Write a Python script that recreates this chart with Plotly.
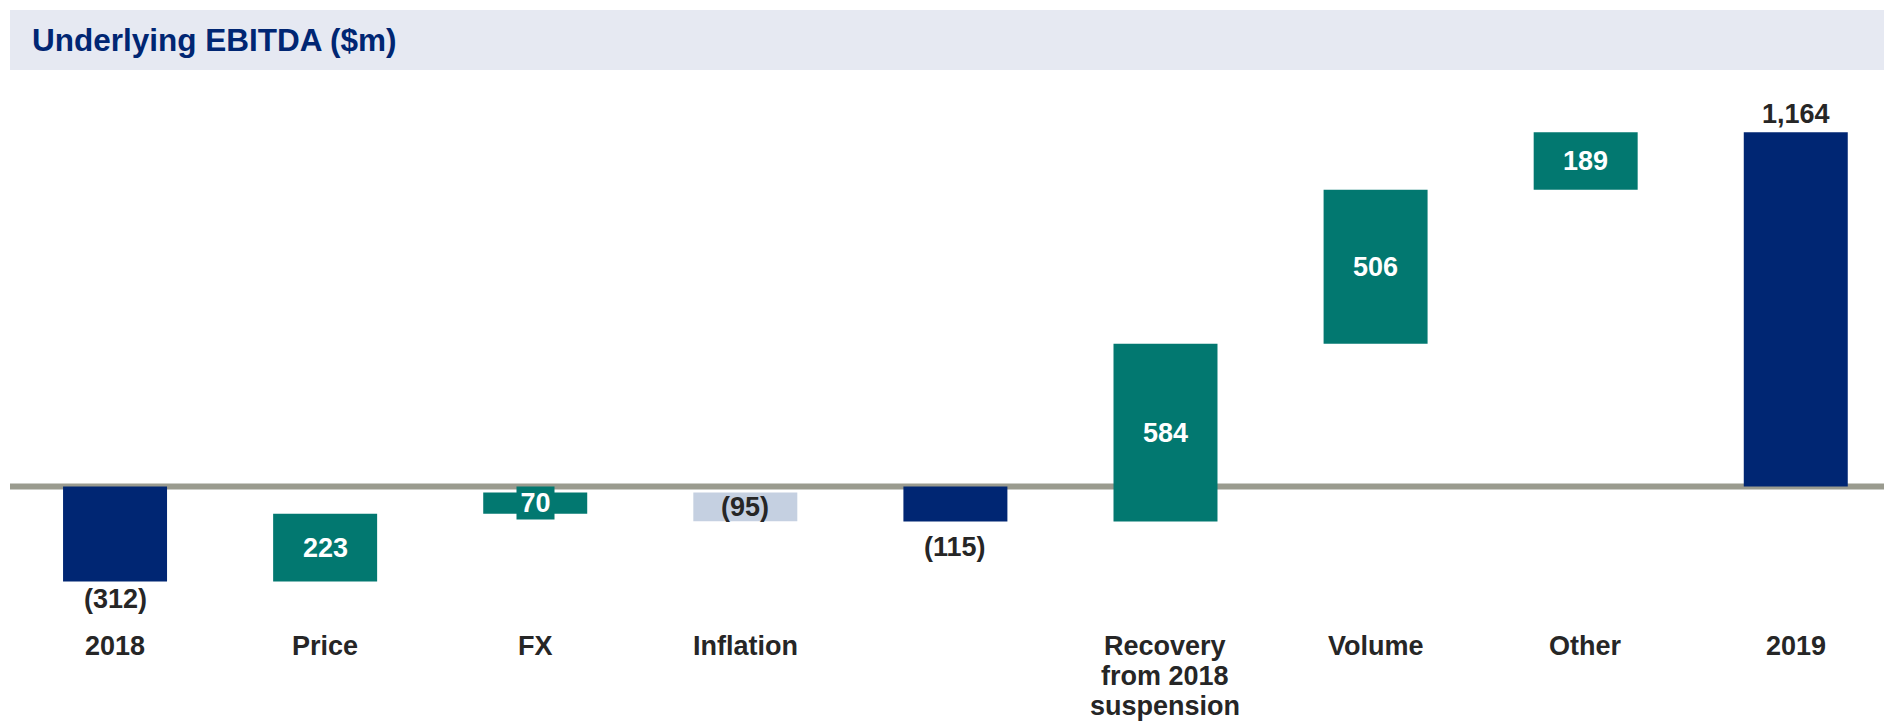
import plotly.graph_objects as go

# Underlying EBITDA bridge, 2018 -> 2019 ($m)
categories = ["2018", "Price", "FX", "Inflation", "",
              "Recovery<br>from 2018<br>suspension", "Volume", "Other", "2019"]
measures = ["absolute", "relative", "relative", "relative", "absolute",
            "relative", "relative", "relative", "absolute"]
values = [-312, 223, 70, -95, -115, 584, 506, 189, 1164]
value_labels = ["(312)", "223", "70", "(95)", "(115)", "584", "506", "189", "1,164"]

NAVY = "#002673"
TEAL = "#027870"
LIGHT = "#C5D0E1"
DARK = "#262626"
FONT = "Liberation Sans, Arial, sans-serif"

# running bar extents (base, end) built from the measures
bases, ends = [], []
total = 0
for m, v in zip(measures, values):
    if m == "absolute":
        bases.append(0)
        total = v
    else:
        bases.append(total)
        total += v
    ends.append(total)

x = list(range(len(categories)))

fig = go.Figure()
fig.add_trace(go.Waterfall(
    x=x,
    measure=measures,
    y=values,
    width=0.495,
    increasing=dict(marker=dict(color=TEAL)),
    decreasing=dict(marker=dict(color=LIGHT)),
    totals=dict(marker=dict(color=NAVY)),
    connector=dict(visible=False),
    hoverinfo="skip",
    showlegend=False,
))

# label placement per bar: inside (centred), below or above the bar end
placement = ["below", "inside", "inside_box", "inside_dark", "below",
             "inside", "inside", "inside", "above"]
shift_px = {0: -17, 4: -25, 8: 18}

annotations = []
for i, (lab, pos) in enumerate(zip(value_labels, placement)):
    base, end = bases[i], ends[i]
    if pos.startswith("inside"):
        color = DARK if pos == "inside_dark" else "white"
        ann = dict(x=i, y=(base + end) / 2, text=lab, showarrow=False,
                   xanchor="center", yanchor="middle",
                   font=dict(family=FONT, size=27, color=color, weight="bold"))
        if pos == "inside_box":
            # thin bar: the label sits on its own filled box
            ann.update(bgcolor=TEAL, borderpad=0, width=37, height=32)
        annotations.append(ann)
    else:
        annotations.append(dict(x=i, y=end, text=lab, showarrow=False,
                                xanchor="center", yanchor="middle",
                                yshift=shift_px[i],
                                font=dict(family=FONT, size=27, color=DARK, weight="bold")))

# category labels under the bars, one text line per annotation (tight leading)
PLOT_TOP, PLOT_BOTTOM = 80, 620
plot_h = PLOT_BOTTOM - PLOT_TOP
first_line_px, line_gap_px = 646, 30
for i, cat in enumerate(categories):
    for k, line in enumerate(cat.split("<br>")):
        if not line:
            continue
        py = first_line_px + k * line_gap_px
        annotations.append(dict(x=i, xref="x", yref="paper",
                                y=(PLOT_BOTTOM - py) / plot_h,
                                text=line, showarrow=False,
                                xanchor="center", yanchor="middle",
                                font=dict(family=FONT, size=27, color=DARK, weight="bold")))

# header title
annotations.append(dict(xref="paper", yref="paper", x=0.0105,
                        y=(PLOT_BOTTOM - 40) / plot_h,
                        text="Underlying EBITDA ($m)", showarrow=False,
                        xanchor="left", yanchor="middle",
                        font=dict(family=FONT, size=31.5, color=NAVY, weight="bold")))

fig.update_layout(
    width=1884, height=721,
    margin=dict(l=10, r=0, t=PLOT_TOP, b=721 - PLOT_BOTTOM),
    paper_bgcolor="white", plot_bgcolor="white",
    xaxis=dict(range=[-0.5, 8.42], showticklabels=False,
               showgrid=False, zeroline=False, showline=False, ticks="",
               fixedrange=True),
    yaxis=dict(range=[-438.1, 1335.3], visible=False, showgrid=False,
               zeroline=False, fixedrange=True),
    annotations=annotations,
    shapes=[
        # header band
        dict(type="rect", xref="paper", yref="paper", x0=0, x1=1,
             y0=(PLOT_BOTTOM - 70) / plot_h, y1=(PLOT_BOTTOM - 10) / plot_h,
             fillcolor="#E6E9F2", line=dict(width=0), layer="below"),
        # zero baseline
        dict(type="line", xref="paper", yref="y", x0=0, x1=1, y0=0, y1=0,
             line=dict(color="#9A9B8F", width=6), layer="below"),
    ],
)

fig.write_html("out.html")
